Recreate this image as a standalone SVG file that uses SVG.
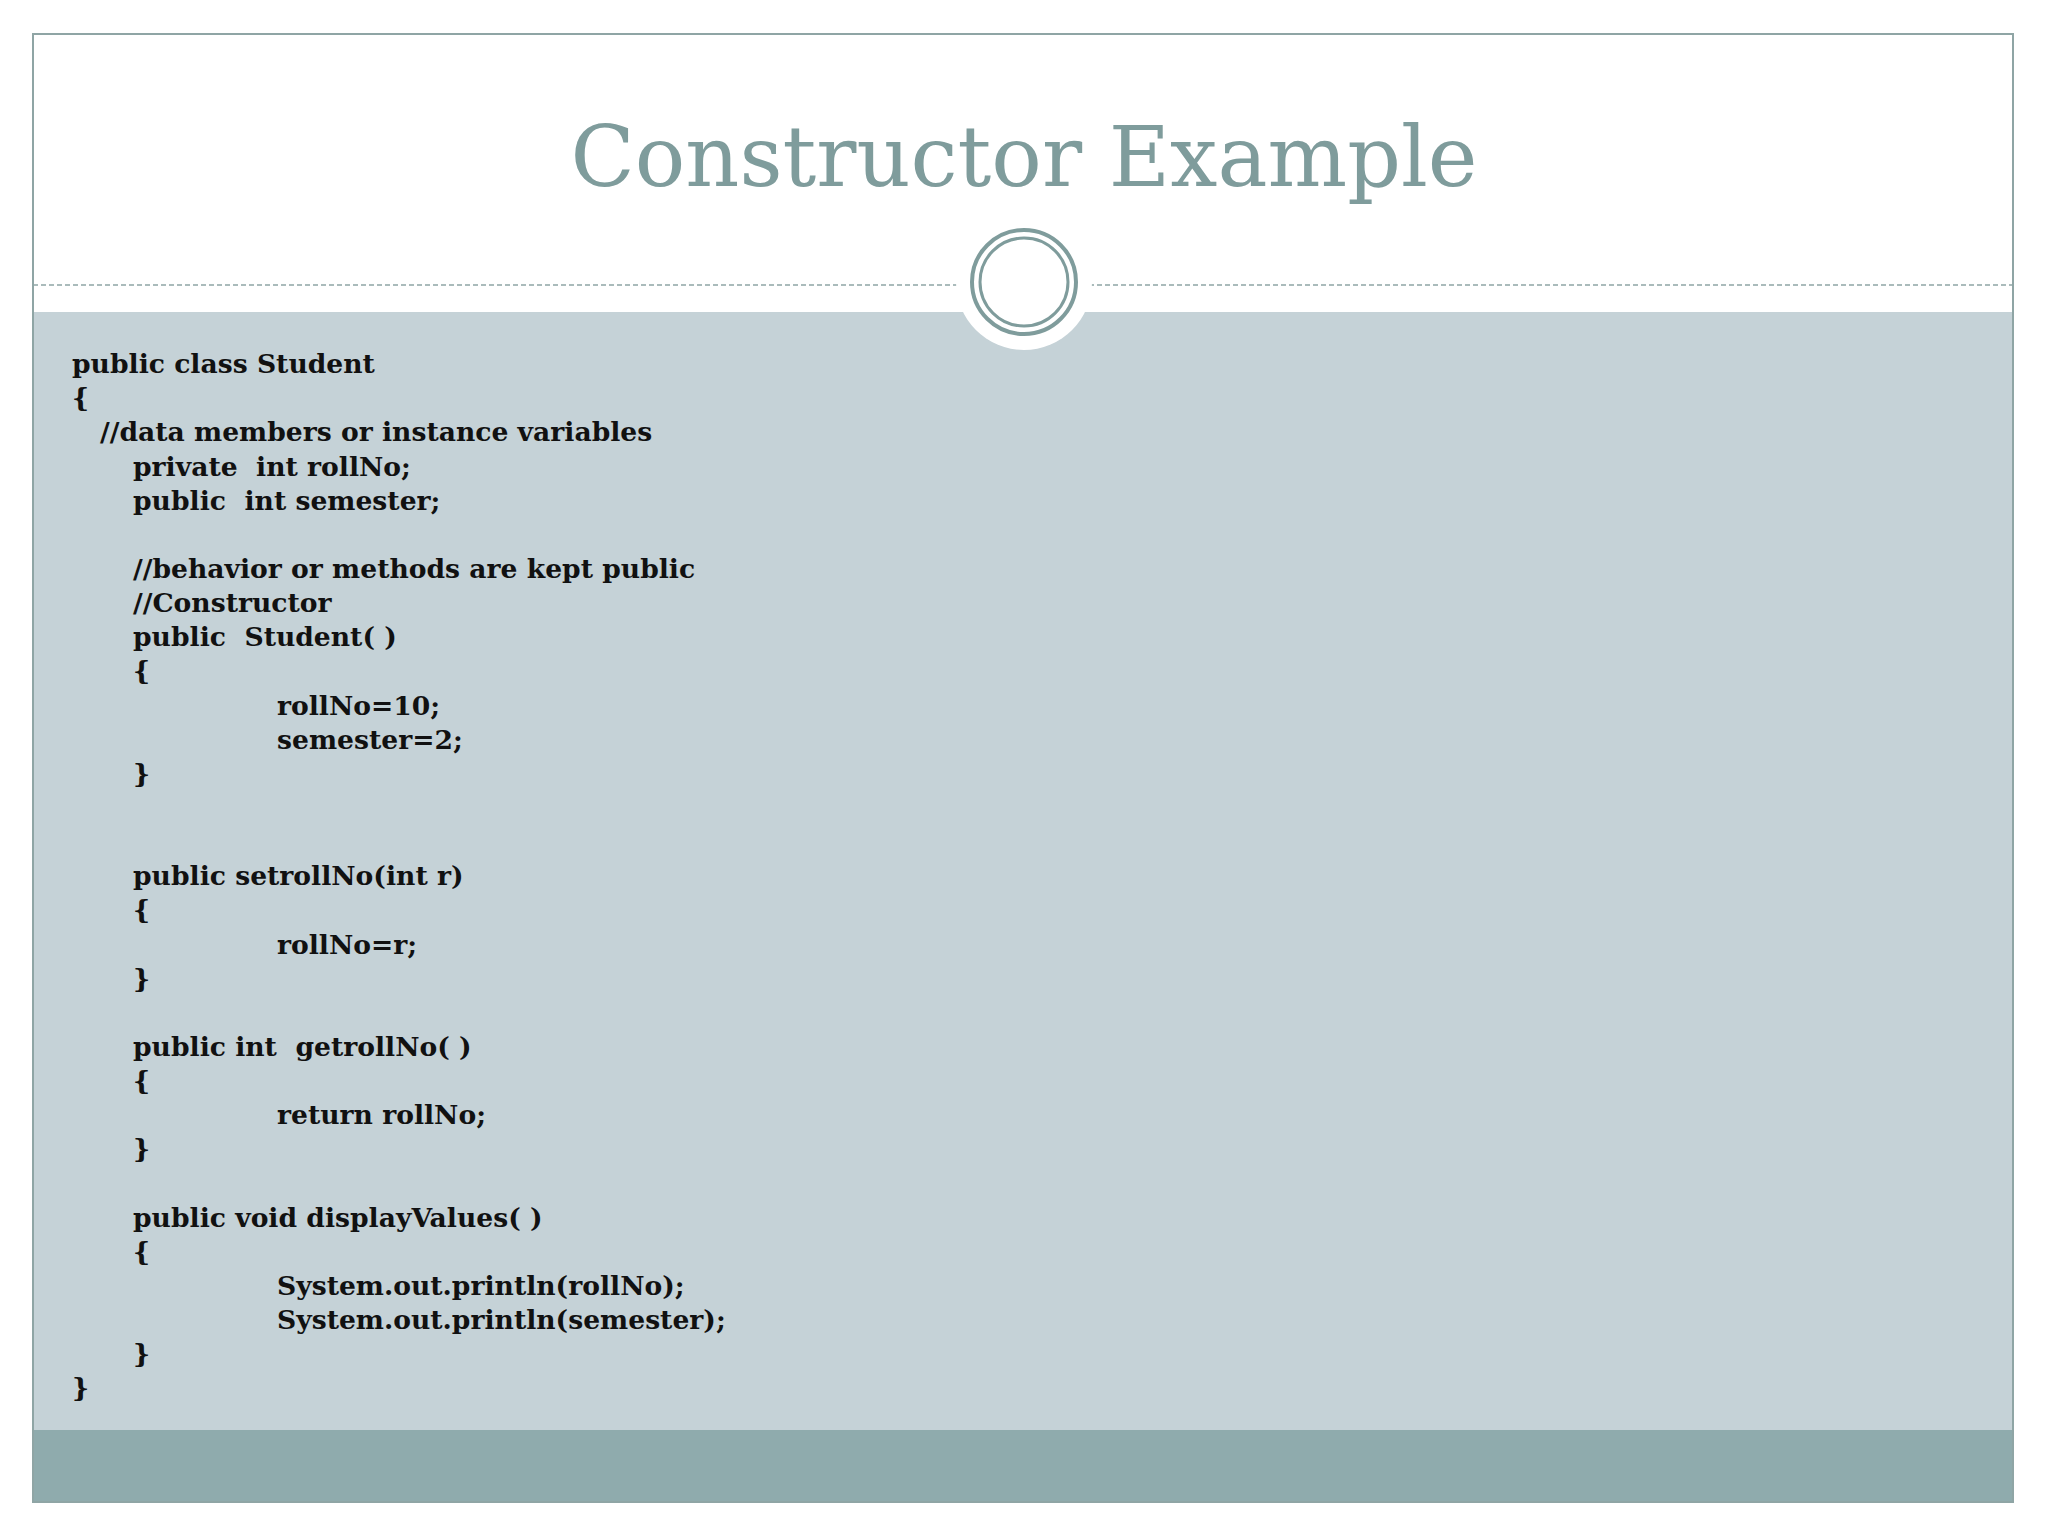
<svg xmlns="http://www.w3.org/2000/svg" width="2048" height="1536" viewBox="0 0 2048 1536">
<style>
.c{font-family:"DejaVu Serif","Liberation Serif",serif;font-weight:bold;font-size:26.6px;fill:#111;white-space:pre}
</style>
<rect width="2048" height="1536" fill="#fff"/>
<g id="frame">
<rect x="33" y="312" width="1980" height="1118" fill="#c5d2d7"/>
<rect x="33" y="1430" width="1980" height="72" fill="#8fabad"/>
<rect x="33" y="34" width="1980" height="1468" fill="none" stroke="#8fa5a5" stroke-width="2"/>
<line x1="33" y1="285" x2="2013" y2="285" stroke="#8fa5a5" stroke-width="1.5" stroke-dasharray="5,3"/>
<circle cx="1024" cy="282" r="68" fill="#fff"/>
<circle cx="1024" cy="282" r="52" fill="none" stroke="#7f9c9c" stroke-width="4"/>
<circle cx="1024" cy="282" r="44" fill="none" stroke="#7f9c9c" stroke-width="3"/>
</g>
<g id="title"><text x="1024" y="186" text-anchor="middle" font-family="DejaVu Serif, Liberation Serif, serif" font-size="84" fill="#7f9c9c">Constructor Example</text></g>
<g id="code" xml:space="preserve">
<text class="c" x="72" y="373">public class Student</text>
<text class="c" x="72" y="407">{</text>
<text class="c" x="100" y="441">//data members or instance variables</text>
<text class="c" x="133" y="476">private  int rollNo;</text>
<text class="c" x="133" y="510">public  int semester;</text>
<text class="c" x="133" y="578">//behavior or methods are kept public</text>
<text class="c" x="133" y="612">//Constructor</text>
<text class="c" x="133" y="646">public  Student( )</text>
<text class="c" x="133" y="680">{</text>
<text class="c" x="277" y="715">rollNo=10;</text>
<text class="c" x="277" y="749">semester=2;</text>
<text class="c" x="133" y="783">}</text>
<text class="c" x="133" y="885">public setrollNo(int r)</text>
<text class="c" x="133" y="919">{</text>
<text class="c" x="277" y="954">rollNo=r;</text>
<text class="c" x="133" y="988">}</text>
<text class="c" x="133" y="1056">public int  getrollNo( )</text>
<text class="c" x="133" y="1090">{</text>
<text class="c" x="277" y="1124">return rollNo;</text>
<text class="c" x="133" y="1158">}</text>
<text class="c" x="133" y="1227">public void displayValues( )</text>
<text class="c" x="133" y="1261">{</text>
<text class="c" x="277" y="1295">System.out.println(rollNo);</text>
<text class="c" x="277" y="1329">System.out.println(semester);</text>
<text class="c" x="133" y="1363">}</text>
<text class="c" x="72" y="1397">}</text>
</g>
</svg>
